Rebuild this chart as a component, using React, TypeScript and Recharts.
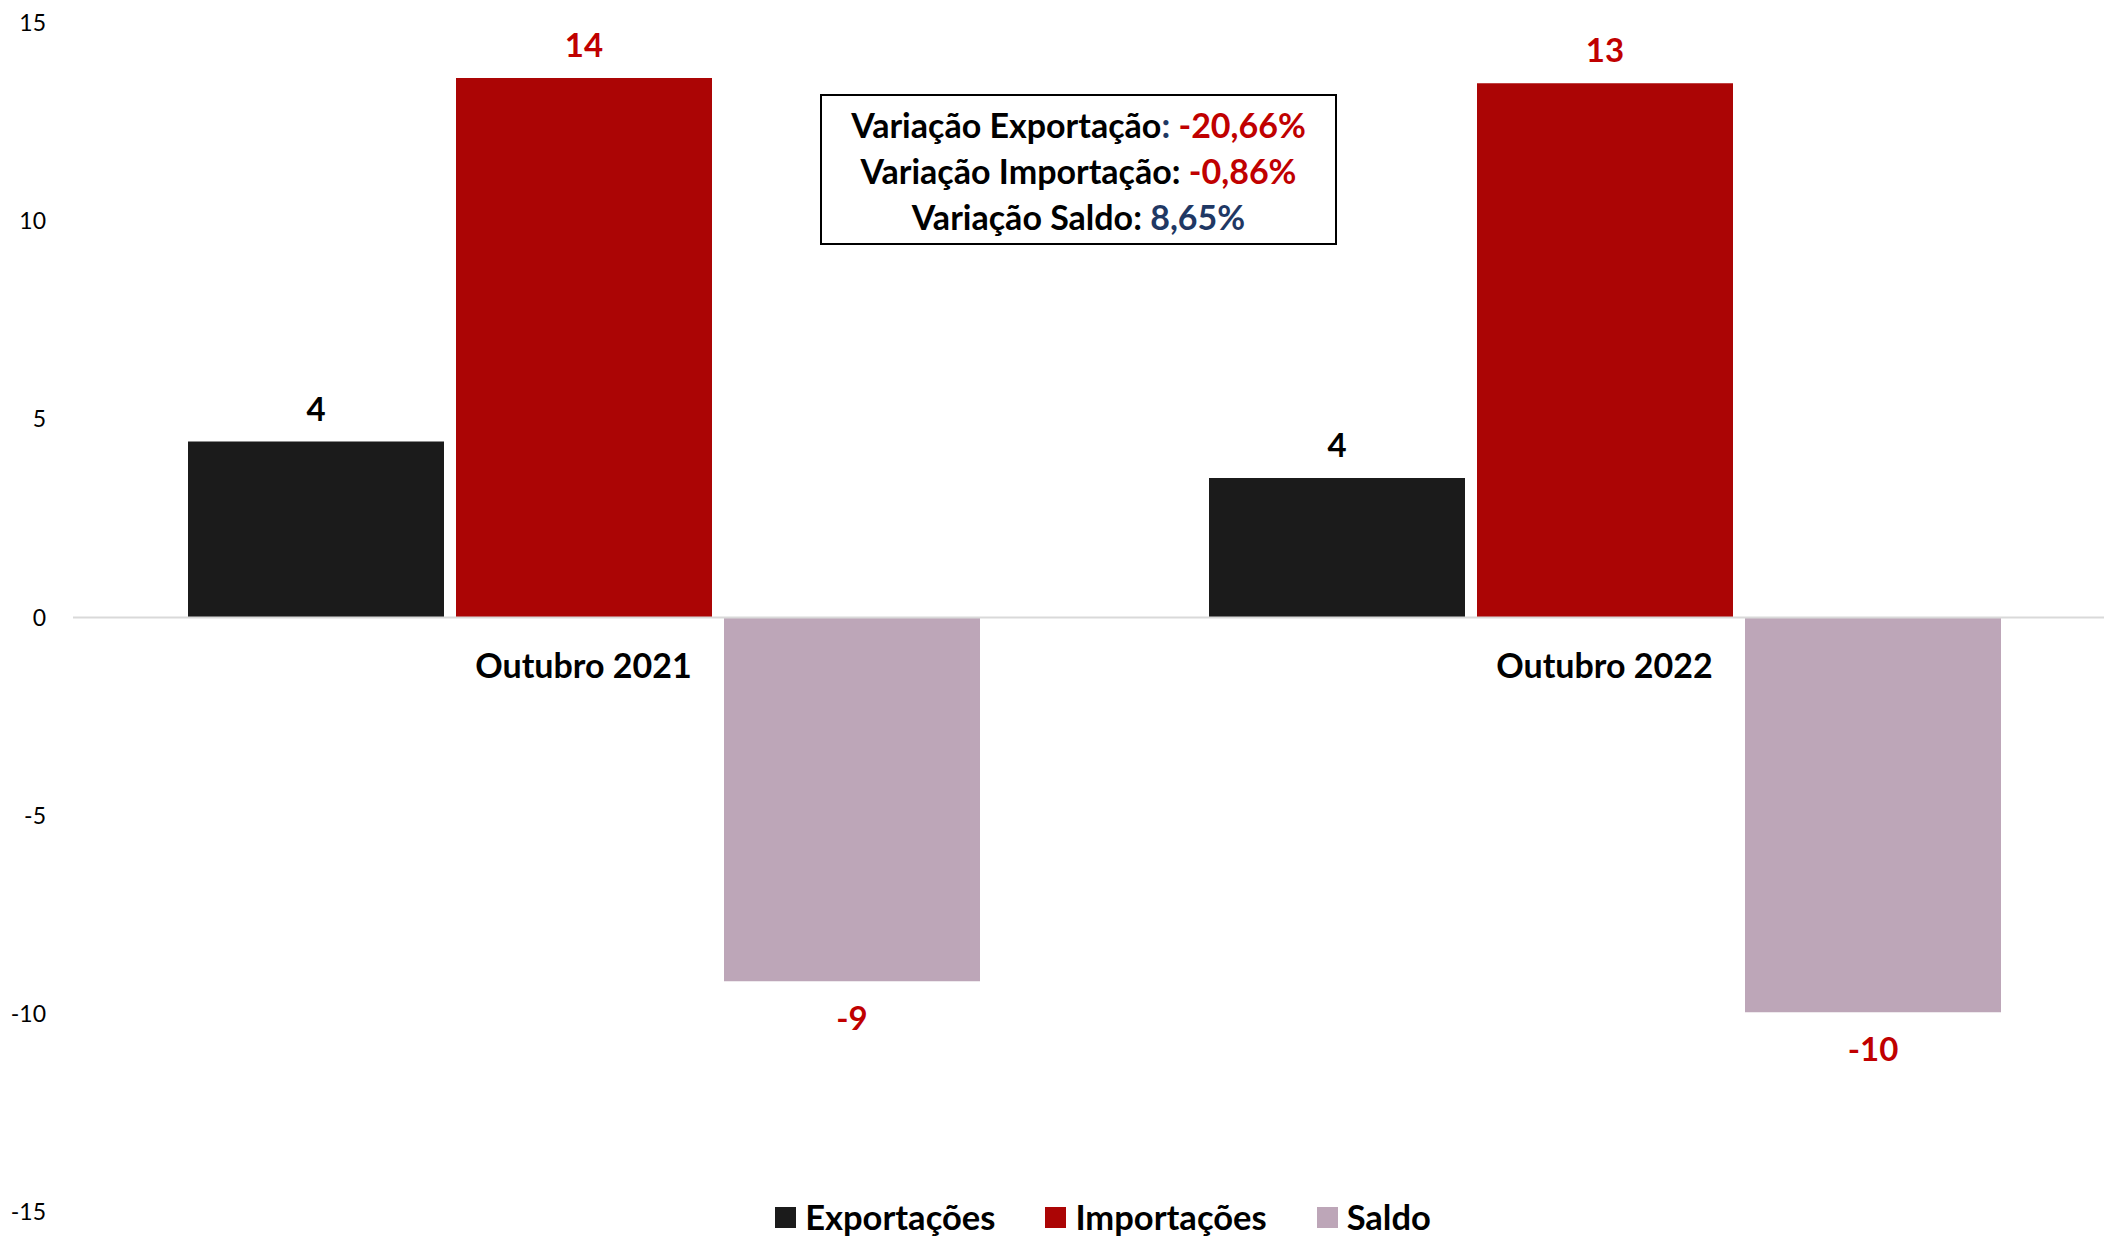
import React from "react";
import {
  Bar,
  BarChart,
  LabelList,
  Legend,
  ReferenceLine,
  XAxis,
  YAxis,
} from "recharts";

const categories = ["Outubro 2021", "Outubro 2022"];
const exportacoes = [4.44, 3.52];
const importacoes = [13.61, 13.48];
const saldo = [-9.18, -9.96];
const yTicks = [-15, -10, -5, 0, 5, 10, 15];

const data = categories.map((name, i) => ({
  name,
  Exportações: exportacoes[i],
  Importações: importacoes[i],
  Saldo: saldo[i],
}));

const W = 2104;
const H = 1237;
const MARGIN = { top: 23, right: -11, bottom: 24, left: 0 };
const X_AXIS_H = 1;
const FONT = "Lato, 'Open Sans', sans-serif";

const BLACK = "#1b1b1b";
const RED = "#ab0505";
const MAUVE = "#bda6b8";
const LABEL_RED = "#c00000";
const BLUE = "#1f3864";

const legendItems = [
  { label: "Exportações", color: BLACK },
  { label: "Importações", color: RED },
  { label: "Saldo", color: MAUVE },
];

function valueLabel(color: string) {
  return (props: any) => {
    const { x, y, width, height, value } = props;
    const top = Math.min(y, y + height);
    const bottom = Math.max(y, y + height);
    const cy = value >= 0 ? top - 34 : bottom + 36;
    return (
      <text
        x={x + width / 2}
        y={cy}
        textAnchor="middle"
        dominantBaseline="central"
        fontFamily={FONT}
        fontWeight={700}
        fontSize={33}
        fill={color}
      >
        {Math.round(value)}
      </text>
    );
  };
}

// category names sit just under the zero line, not at the plot bottom
function CategoryTick(props: any) {
  const { x, payload } = props;
  const plotH = H - MARGIN.top - MARGIN.bottom - X_AXIS_H;
  const zeroY = MARGIN.top + (15 / 30) * plotH;
  return (
    <text
      x={x}
      y={zeroY + 47}
      textAnchor="middle"
      dominantBaseline="central"
      fontFamily={FONT}
      fontWeight={700}
      fontSize={34}
      fill="#000"
    >
      {payload.value}
    </text>
  );
}

function LegendContent() {
  return (
    <div style={{ display: "flex", justifyContent: "center", gap: 50, fontFamily: FONT }}>
      {legendItems.map((it) => (
        <div key={it.label} style={{ display: "flex", alignItems: "center", height: 34 }}>
          <span style={{ width: 21, height: 21, background: it.color, marginRight: 9 }} />
          <span style={{ fontSize: 34.5, lineHeight: "34px", fontWeight: 700, color: "#000" }}>
            {it.label}
          </span>
        </div>
      ))}
    </div>
  );
}

export default function App() {
  return (
    <div style={{ position: "absolute", left: 0, top: 0, width: W, height: H, background: "#fff", overflow: "hidden" }}>
      <BarChart
        width={W}
        height={H}
        data={data}
        margin={MARGIN}
        barCategoryGap={115}
        barGap={12}
      >
        <YAxis
          domain={[-15, 15]}
          ticks={yTicks}
          width={73}
          axisLine={false}
          tickLine={false}
          tickSize={0}
          tickMargin={27}
          tick={{ fontFamily: FONT, fontSize: 23, fill: "#000" }}
          interval={0}
        />
        <XAxis
          dataKey="name"
          axisLine={false}
          tickLine={false}
          tick={<CategoryTick />}
          height={X_AXIS_H}
          interval={0}
        />
        <ReferenceLine y={0} stroke="#d9d9d9" strokeWidth={2} />
        <Bar dataKey="Exportações" fill={BLACK} isAnimationActive={false}>
          <LabelList dataKey="Exportações" content={valueLabel("#000")} />
        </Bar>
        <Bar dataKey="Importações" fill={RED} isAnimationActive={false}>
          <LabelList dataKey="Importações" content={valueLabel(LABEL_RED)} />
        </Bar>
        <Bar dataKey="Saldo" fill={MAUVE} isAnimationActive={false}>
          <LabelList dataKey="Saldo" content={valueLabel(LABEL_RED)} />
        </Bar>
        <Legend
          layout="horizontal"
          verticalAlign="middle"
          align="center"
          content={<LegendContent />}
          wrapperStyle={{ top: 1200, left: 51, width: W }}
        />
      </BarChart>
      <div
        style={{
          position: "absolute",
          left: 820,
          top: 94,
          width: 517,
          height: 151,
          border: "2px solid #000",
          fontFamily: FONT,
          fontWeight: 700,
          fontSize: 34,
          lineHeight: "46px",
          textAlign: "center",
          paddingTop: 6,
          boxSizing: "border-box",
          color: "#000",
          whiteSpace: "nowrap",
        }}
      >
        <div>
          Variação Exportação<span style={{ color: BLUE }}>:</span>{" "}
          <span style={{ color: LABEL_RED }}>-20,66%</span>
        </div>
        <div>
          Variação Importação: <span style={{ color: LABEL_RED }}>-0,86%</span>
        </div>
        <div>
          Variação Saldo: <span style={{ color: BLUE }}>8,65%</span>
        </div>
      </div>
    </div>
  );
}
